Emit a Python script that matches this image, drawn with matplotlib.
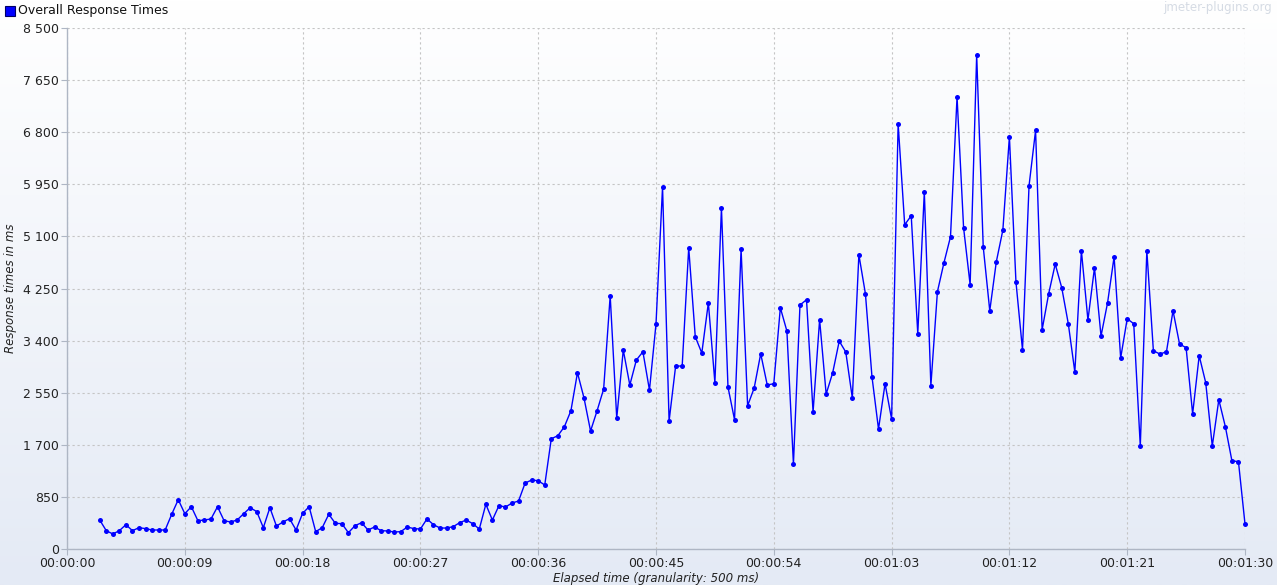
import numpy as np
import matplotlib
matplotlib.use("Agg")
import matplotlib.pyplot as plt
from matplotlib.ticker import FixedLocator, FuncFormatter
from matplotlib.patches import Rectangle

# ---- data ----
series_name = "Overall Response Times"
start_s = 2.5          # elapsed time of the first sample (s)
granularity_s = 0.5    # granularity: 500 ms
response_ms = [
    473, 299, 245, 299, 397, 299, 348, 332, 310, 310,
    310, 566, 805, 577, 690, 462, 473, 490, 690, 462,
    440, 473, 577, 674, 609, 348, 674, 375, 440, 495,
    310, 582, 690, 283, 348, 566, 419, 413, 266, 380,
    429, 310, 359, 299, 294, 277, 283, 359, 332, 326,
    490, 397, 342, 342, 364, 429, 473, 413, 326, 729,
    473, 707, 685, 750, 783, 1076, 1125, 1114, 1044, 1799,
    1848, 1995, 2256, 2876, 2463, 1925, 2256, 2610, 4131, 2137,
    3246, 2675, 3083, 3218, 2593, 3670, 5909, 2088, 2985, 2985,
    4914, 3463, 3197, 4017, 2713, 5567, 2642, 2109, 4893, 2338,
    2626, 3186, 2675, 2697, 3936, 3556, 1386, 3980, 4067, 2234,
    3741, 2528, 2876, 3392, 3213, 2463, 4801, 4164, 2811, 1957,
    2697, 2120, 6937, 5290, 5437, 3512, 5828, 2664, 4197, 4670,
    5094, 7378, 5241, 4311, 8063, 4931, 3887, 4686, 5203, 6725,
    4360, 3251, 5926, 6829, 3577, 4164, 4648, 4262, 3675, 2887,
    4866, 3735, 4588, 3474, 4017, 4768, 3115, 3757, 3675, 1680,
    4866, 3235, 3180, 3218, 3887, 3344, 3284, 2207, 3153, 2713,
    1680, 2435, 1995, 1440, 1424, 408,
]
x_ticks_s = [0, 9, 18, 27, 36, 45, 54, 63, 72, 81, 90]
y_ticks_ms = [0, 850, 1700, 2550, 3400, 4250, 5100, 5950, 6800, 7650, 8500]
x_label = "Elapsed time (granularity: 500 ms)"
y_label = "Response times in ms"
watermark = "jmeter-plugins.org"

elapsed = start_s + granularity_s * np.arange(len(response_ms))

# ---- figure ----
W, H = 1277, 585
fig = plt.figure(figsize=(W / 100, H / 100), dpi=100)
plt.rcParams['font.family'] = ['DejaVu Sans']

# background gradient for the whole figure
bg = fig.add_axes([0, 0, 1, 1], zorder=-10)
grad = np.linspace(0, 1, 256)[:, None]
top = np.array([1.0, 1.0, 1.0])
bot = np.array([228, 234, 245]) / 255.0
img = top[None, None, :] * (1 - grad[:, :, None]) + bot[None, None, :] * grad[:, :, None]
bg.imshow(img, aspect='auto', extent=[0, 1, 0, 1], origin='upper')
bg.set_axis_off()

L, R, T, B = 67, 1245, 28, 549
ax = fig.add_axes([L / W, (H - B) / H, (R - L) / W, (B - T) / H])
ax.set_facecolor('none')

ax.plot(elapsed, response_ms, color='#0000FF', lw=1.0, marker='o',
        markersize=3.6, markeredgewidth=0, clip_on=False, zorder=3)

ax.set_xlim(0, 90)
ax.set_ylim(0, 8500)
ax.xaxis.set_major_locator(FixedLocator(x_ticks_s))
ax.yaxis.set_major_locator(FixedLocator(y_ticks_ms))


def fmt_time(v, pos=None):
    s = int(round(v))
    return "%02d:%02d:%02d" % (s // 3600, (s % 3600) // 60, s % 60)


def fmt_ms(v, pos=None):
    return "{:,}".format(int(round(v))).replace(",", " ")


ax.xaxis.set_major_formatter(FuncFormatter(fmt_time))
ax.yaxis.set_major_formatter(FuncFormatter(fmt_ms))

ax.grid(True, color='#C4C4C4', linestyle=(0, (2, 2.5)), linewidth=0.8)
ax.set_axisbelow(True)
for s in ['top', 'right']:
    ax.spines[s].set_visible(False)
for s in ['left', 'bottom']:
    ax.spines[s].set_color('#AEB6C4')
    ax.spines[s].set_linewidth(1.0)
ax.tick_params(axis='both', which='major', length=4, width=0.8,
               color='#AEB6C4', labelsize=9, labelcolor='#222222', pad=2)

ax.set_xlabel(x_label, fontsize=8.5, style='italic', color='#222222', labelpad=1)
ax.set_ylabel(y_label, fontsize=8.5, style='italic', color='#222222', labelpad=4)

# legend in the top-left corner
fig.patches.append(Rectangle((5 / W, 1 - 16 / H), 10 / W, 10 / H,
                             transform=fig.transFigure, facecolor='#0000FF',
                             edgecolor='#000066', linewidth=0.8))
fig.text(18 / W, 1 - 10.5 / H, series_name, fontsize=9, color='#111111',
         ha='left', va='center')
# watermark
fig.text(1272 / W, 1 - 7 / H, watermark, fontsize=8.5, color='#D5DBE4',
         ha='right', va='center')

fig.savefig("out.png", dpi=100)
